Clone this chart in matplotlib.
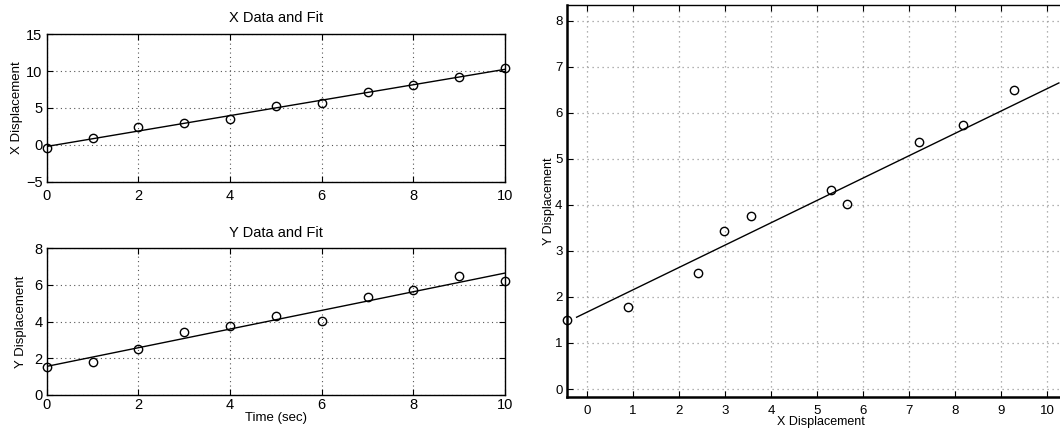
import matplotlib
matplotlib.use('Agg')
import matplotlib.pyplot as plt

plt.rcParams['font.family'] = ['Liberation Sans', 'DejaVu Sans']

# data
t = [0, 1, 2, 3, 4, 5, 6, 7, 8, 9, 10]
x_disp = [-0.43, 0.89, 2.42, 2.97, 3.57, 5.3, 5.65, 7.22, 8.17, 9.27, 10.4]
y_disp = [1.5, 1.78, 2.53, 3.44, 3.76, 4.33, 4.02, 5.37, 5.73, 6.5, 6.22]

# fit line end points
fit_t = [0, 10]
fit_x = [-0.22, 10.25]
fit_y = [1.56, 6.65]

W, H = 1060, 430
fig = plt.figure(figsize=(W / 100, H / 100), dpi=100)


def box(l, t_, r, b):
    return [l / W, 1 - b / H, (r - l) / W, (b - t_) / H]


def style(ax, fs, pad=3):
    ax.grid(True, linestyle=(0, (1, 3)), color='#555555', linewidth=0.8)
    ax.tick_params(direction='in', top=True, right=True, length=4,
                   labelsize=fs, width=0.8, pad=pad)
    for s in ax.spines.values():
        s.set_linewidth(1.0)
    ax.set_axisbelow(True)


# top left
ax1 = fig.add_axes(box(46.7, 34.3, 505, 181.7))
ax1.plot(fit_t, fit_x, color='k', linewidth=1)
ax1.plot(t, x_disp, 'o', mfc='none', mec='k', ms=6, mew=1, clip_on=False)
ax1.set_xlim(0, 10)
ax1.set_ylim(-5, 15)
ax1.set_xticks([0, 2, 4, 6, 8, 10])
ax1.set_yticks([-5, 0, 5, 10, 15])
ax1.set_yticklabels(['\u22125', '0', '5', '10', '15'])
ax1.set_title('X Data and Fit', fontsize=10.5, pad=9)
ax1.set_ylabel('X Displacement', fontsize=9.5, labelpad=2)
style(ax1, 10.5)
ax1.tick_params(axis='x', pad=5)

# bottom left
ax2 = fig.add_axes(box(46.7, 248.3, 505, 395))
ax2.plot(fit_t, fit_y, color='k', linewidth=1)
ax2.plot(t, y_disp, 'o', mfc='none', mec='k', ms=6, mew=1, clip_on=False)
ax2.set_xlim(0, 10)
ax2.set_ylim(0, 8)
ax2.set_xticks([0, 2, 4, 6, 8, 10])
ax2.set_yticks([0, 2, 4, 6, 8])
ax2.set_title('Y Data and Fit', fontsize=10.5, pad=8)
ax2.set_ylabel('Y Displacement', fontsize=9.5, labelpad=5)
ax2.set_xlabel('Time (sec)', fontsize=9.5, labelpad=0)
style(ax2, 10.5)
ax2.tick_params(axis='x', pad=2)

# right: y against x
ax3 = fig.add_axes(box(566.7, 4.7, 1075, 396.7))
ax3.plot(fit_x, fit_y, color='k', linewidth=1)
ax3.plot(x_disp, y_disp, 'o', mfc='none', mec='k', ms=6, mew=1, clip_on=False)
ax3.set_xlim(-0.435, 10.6)
ax3.set_ylim(-0.167, 8.35)
ax3.set_xticks(range(0, 11))
ax3.set_yticks(range(0, 9))
ax3.set_xlabel('X Displacement', fontsize=9, labelpad=-1)
ax3.set_ylabel('Y Displacement', fontsize=9, labelpad=0)
style(ax3, 9.5)
ax3.tick_params(axis='x', pad=6)
ax3.grid(True, linestyle=(0, (1, 3)), color='#999999', linewidth=0.9)
ax3.spines['left'].set_linewidth(1.8)
ax3.spines['bottom'].set_linewidth(1.8)

fig.savefig('out.png', dpi=100)
